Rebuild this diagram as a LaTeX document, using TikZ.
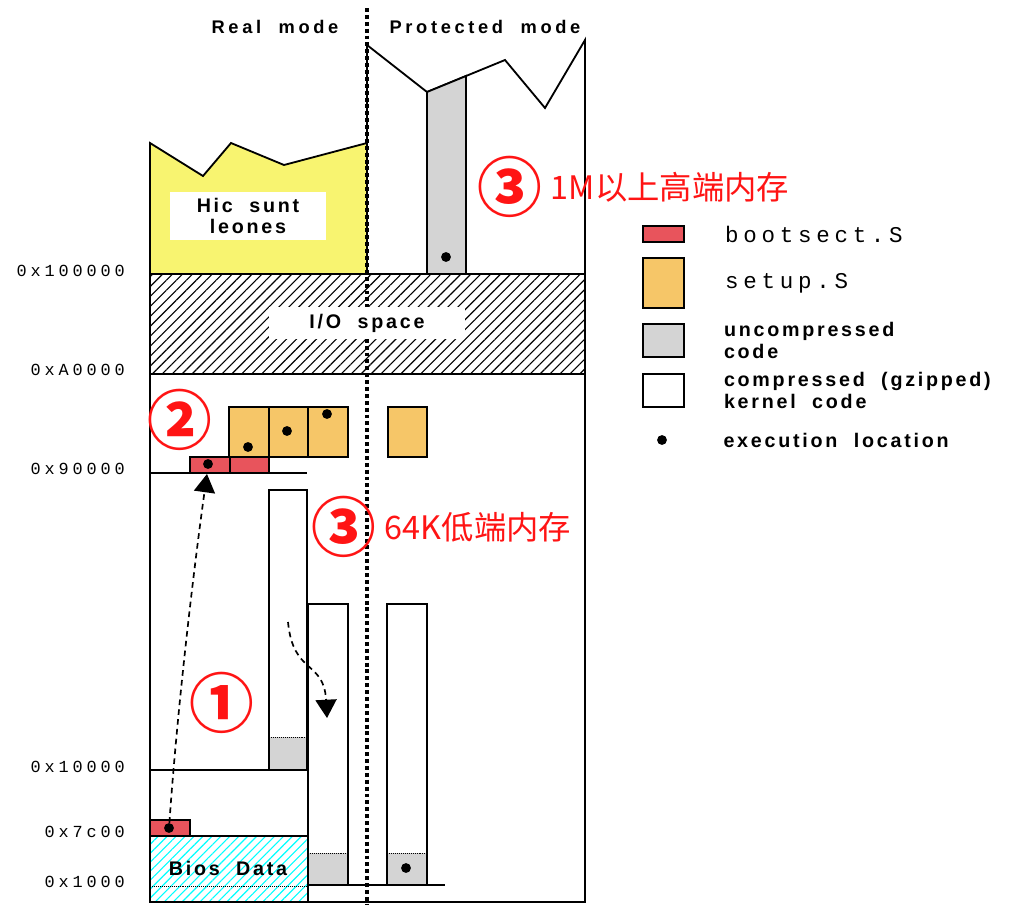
\documentclass[tikz,border=0pt]{standalone}
\usepackage{fontspec}
\setmainfont{Liberation Sans}
\newfontfamily\pixfont[LetterSpace=14,WordSpace=2]{Liberation Sans}
\newfontfamily\headfont[LetterSpace=20,WordSpace=2]{Liberation Sans}
\newfontfamily\addrfont[LetterSpace=23]{Liberation Mono}
\newfontfamily\filefont[LetterSpace=21]{Liberation Mono}
\newfontfamily\cjk{Noto Sans CJK SC}
\usepackage{tikz}
\usetikzlibrary{arrows.meta,positioning,patterns.meta}
\definecolor{bootred}{RGB}{232,84,92}
\definecolor{setuporange}{RGB}{246,198,104}
\definecolor{leonyellow}{RGB}{248,244,112}
\definecolor{codegray}{RGB}{212,212,212}
\definecolor{notered}{RGB}{255,20,20}

\begin{document}
\begin{tikzpicture}[
    x=0.025cm, y=-0.025cm,
    wall/.style={line width=1.3pt},
    bootbox/.style={draw, line width=1.3pt, fill=bootred},
    setupbox/.style={draw, line width=1.3pt, fill=setuporange},
    zipbox/.style={draw, line width=1.3pt, fill=white},
    rawbox/.style={draw, line width=1.3pt, fill=codegray},
    divider/.style={line width=2.2pt, dash pattern=on 2.8pt off 2.1pt},
    exec/.style={circle, fill=black, inner sep=0pt, minimum size=7pt},
    addr/.style={anchor=east, inner sep=0pt, font=\addrfont\fontsize{12}{12}\selectfont},
    head/.style={inner sep=0pt, font=\headfont\bfseries\fontsize{13}{13}\selectfont},
    platetext/.style={inner sep=0pt, align=center, font=\pixfont\bfseries\fontsize{14}{15}\selectfont},
    plate/.style={platetext, fill=white},
    legend/.style={anchor=west, inner sep=0pt, align=left, font=\pixfont\bfseries\fontsize{14}{15}\selectfont},
    filename/.style={anchor=west, inner sep=0pt, font=\filefont\fontsize{16}{16}\selectfont},
    stepnum/.style={inner sep=0pt, text=notered, font=\cjk\bfseries\fontsize{46}{46}\selectfont},
    memnote/.style={anchor=west, inner sep=0pt, text=notered, font=\cjk\fontsize{23}{23}\selectfont},
    jump/.style={line width=1.2pt, dash pattern=on 4pt off 3pt, -{Triangle[width=15pt,length=13pt]}}
]
    \useasboundingbox (0,0) rectangle (1013,914);

    % Above 1M
    \draw[wall, fill=leonyellow] (150,274) -- (150,143) -- (203,176) -- (231,143) -- (284,165) -- (367,143) -- (367,274) -- cycle;
    \draw[wall] (367,274) -- (367,45) -- (427,92) -- (505,60) -- (545,108) -- (585,40) -- (585,274);
    \draw[rawbox] (427,274) -- (427,92) -- (466,76) -- (466,274) -- cycle;

    % I/O hole and low memory
    \draw[wall, pattern={Lines[angle=45,distance=5pt,line width=0.8pt]}] (150,274) rectangle (585,374);
    \draw[wall] (150,374) -- (150,902) -- (585,902) -- (585,374);
    \draw[wall, pattern={Lines[angle=45,distance=4.5pt,line width=0.8pt]}, pattern color=cyan] (150,836) rectangle (308,902);
    \draw[densely dotted] (150,886) -- (308,886);
    \draw[wall] (150,473) -- (307,473);
    \draw[wall] (150,770) -- (307,770);
    \draw[wall] (308,885) -- (445,885);

    % setup.S and bootsect.S
    \draw[setupbox] (229,407) rectangle (269,457);
    \draw[setupbox] (269,407) rectangle (308,457);
    \draw[setupbox] (308,407) rectangle (348,457);
    \draw[setupbox] (388,407) rectangle (427,457);
    \draw[bootbox] (190,457) rectangle (230,473);
    \draw[bootbox] (230,457) rectangle (269,473);
    \draw[bootbox] (150,820) rectangle (190,836);

    % Kernel columns
    \draw[zipbox] (269,490) rectangle (307,770);
    \fill[codegray] (269,737) rectangle (307,770);
    \draw[densely dotted] (269,737) -- (307,737);
    \draw[wall] (269,490) rectangle (307,770);
    \draw[zipbox] (308,604) rectangle (348,885);
    \fill[codegray] (308,853) rectangle (348,885);
    \draw[densely dotted] (308,853) -- (348,853);
    \draw[wall] (308,604) rectangle (348,885);
    \draw[zipbox] (387,604) rectangle (427,885);
    \fill[codegray] (387,853) rectangle (427,885);
    \draw[densely dotted] (387,853) -- (427,853);
    \draw[wall] (387,604) rectangle (427,885);

    % Real / protected split
    \draw[divider] (367,8) -- (367,905);
    \node[head] (real) at (275,27) {Real mode};
    \node[head] (prot) at (485,27) {Protected mode};
    \node[plate, minimum width=3.9cm, minimum height=1.2cm] (leones) at (248,216) {Hic sunt\\leones};
    \node[plate, minimum width=4.9cm, minimum height=0.82cm] (io) at (367,323) {I/O space};
    \node[platetext] (bios) at (228,868) {Bios Data};

    % Addresses
    \node[addr] (a100000) at (125,271) {0x100000};
    \node[addr] (aA0000) at (125,370) {0xA0000};
    \node[addr] (a90000) at (125,469) {0x90000};
    \node[addr] (a10000) at (125,767) {0x10000};
    \node[addr] (a7c00) at (125,832) {0x7c00};
    \node[addr] (a1000) at (125,882) {0x1000};

    % Execution points
    \node[exec] (run7c) at (169,828) {};
    \node[exec] (run90) at (208,464) {};
    \node[exec] (runs1) at (248,447) {};
    \node[exec] (runs2) at (287,431) {};
    \node[exec] (runs3) at (327,414) {};
    \node[exec] (runhi) at (446,257) {};
    \node[exec] (runlo) at (406,868) {};

    % Moves
    \coordinate (into90) at (207,474);
    \coordinate (zipfrom) at (288,622);
    \coordinate (zipto) at (327,718);
    \draw[jump] (run7c) .. controls (178,700) and (195,560) .. (into90);
    \draw[jump] (zipfrom) .. controls (293,675) and (324,660) .. (zipto);

    % Steps
    \node[stepnum] (step1) at (222,703) {①};
    \node[stepnum] (step2) at (180,420) {②};
    \node[stepnum] (step3lo) at (344,527) {③};
    \node[stepnum] (step3hi) at (510,187) {③};
    \node[memnote, right=0.2cm of step3lo] (lownote) {64K低端内存};
    \node[memnote, right=0.2cm of step3hi] (highnote) {1M以上高端内存};

    % Legend
    \node[bootbox, inner sep=0pt, minimum width=1.025cm, minimum height=0.4cm] (keyboot) at (663.5,234) {};
    \node[setupbox, inner sep=0pt, minimum width=1.025cm, minimum height=1.25cm] (keysetup) at (663.5,283) {};
    \node[rawbox, inner sep=0pt, minimum width=1.025cm, minimum height=0.825cm] (keyraw) at (663.5,340.5) {};
    \node[zipbox, inner sep=0pt, minimum width=1.025cm, minimum height=0.825cm] (keyzip) at (663.5,390.5) {};
    \node[exec] (keyrun) at (662,440) {};
    \node[filename, right=1cm of keyboot] (tboot) {bootsect.S};
    \node[filename, right=1cm of keysetup] (tsetup) {setup.S};
    \node[legend, right=0.97cm of keyraw] (traw) {uncompressed\\code};
    \node[legend, right=0.97cm of keyzip] (tzip) {compressed (gzipped)\\kernel code};
    \node[legend, right=1.4cm of keyrun] (trun) {execution location};
\end{tikzpicture}
\end{document}
